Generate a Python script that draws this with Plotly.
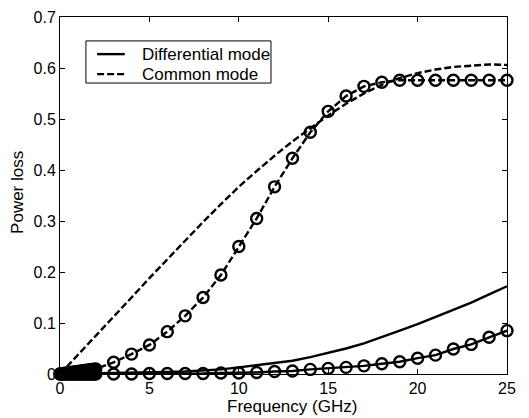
import plotly.graph_objects as go

# Curves without markers (model)
freq_curve = [0, 1, 2, 3, 4, 5, 6, 7, 8, 9, 10, 11, 12, 13, 14, 15, 16, 17, 18, 19, 20, 21, 22, 23, 24, 25]
diff_curve = [0, 0.0005, 0.001, 0.0015, 0.002, 0.003, 0.004, 0.005, 0.007, 0.009, 0.013, 0.017, 0.021, 0.026,
              0.033, 0.041, 0.050, 0.060, 0.072, 0.085, 0.098, 0.112, 0.126, 0.140, 0.156, 0.172]
common_curve = [0, 0.037, 0.075, 0.112, 0.150, 0.188, 0.225, 0.262, 0.298, 0.333, 0.367, 0.398, 0.428, 0.456,
                0.482, 0.507, 0.530, 0.550, 0.567, 0.580, 0.590, 0.597, 0.602, 0.605, 0.607, 0.606]

# Curves with circle markers (measured / simulated points)
freq_pts = [0, 0.1, 0.2, 0.3, 0.4, 0.5, 0.6, 0.7, 0.8, 0.9, 1.0, 1.1, 1.2, 1.3, 1.4, 1.5, 1.6, 1.7, 1.8, 1.9, 2.0,
            3, 4, 5, 6, 7, 8, 9, 10, 11, 12, 13, 14, 15, 16, 17, 18, 19, 20, 21, 22, 23, 24, 25]
diff_pts = [0, 0, 0, 0, 0, 0, 0, 0, 0, 0, 0, 0, 0, 0, 0, 0, 0, 0, 0, 0, 0,
            0.000, 0.000, 0.001, 0.001, 0.001, 0.001, 0.002, 0.002, 0.003, 0.005, 0.006, 0.009, 0.011,
            0.013, 0.016, 0.020, 0.024, 0.031, 0.037, 0.049, 0.058, 0.072, 0.085]
common_pts = [0, 0.0005, 0.001, 0.0015, 0.002, 0.0025, 0.003, 0.0035, 0.004, 0.0045, 0.005, 0.0055, 0.006,
              0.0065, 0.007, 0.0075, 0.008, 0.0085, 0.009, 0.0095, 0.010,
              0.023, 0.039, 0.057, 0.083, 0.114, 0.150, 0.194, 0.250, 0.305, 0.367, 0.423, 0.474, 0.515,
              0.545, 0.564, 0.572, 0.576, 0.576, 0.576, 0.576, 0.576, 0.576, 0.576]

legend_labels = ["Differential mode", "Common mode"]

dash = "7px,3px"
lw = 2.4
circle = dict(symbol="circle-open", size=11, color="black", line=dict(width=2.4))
fig = go.Figure()

fig.add_trace(go.Scatter(x=freq_curve, y=diff_curve, mode="lines", name=legend_labels[0],
                         line=dict(color="black", width=lw)))
fig.add_trace(go.Scatter(x=freq_curve, y=common_curve, mode="lines", name=legend_labels[1],
                         line=dict(color="black", width=lw, dash=dash)))
fig.add_trace(go.Scatter(x=freq_pts, y=diff_pts, mode="lines+markers", name=legend_labels[0] + " (points)",
                         line=dict(color="black", width=lw), marker=circle, cliponaxis=False))
fig.add_trace(go.Scatter(x=freq_pts, y=common_pts, mode="lines+markers", name=legend_labels[1] + " (points)",
                         line=dict(color="black", width=lw, dash=dash), marker=circle, cliponaxis=False))

axis_common = dict(showline=True, linecolor="black", linewidth=1, mirror="ticks", ticks="inside",
                   ticklen=5, tickcolor="black", showgrid=False, zeroline=False, automargin=False,
                   tickfont=dict(size=16, color="black"))

fig.update_layout(
    width=529, height=418,
    margin=dict(l=60, r=22, t=17, b=44),
    paper_bgcolor="white", plot_bgcolor="white",
    font=dict(family="Arial, Liberation Sans, sans-serif", color="black", size=17),
    xaxis=dict(range=[0, 25], tickvals=[0, 5, 10, 15, 20, 25], **axis_common),
    yaxis=dict(range=[0, 0.7], tickvals=[0, 0.1, 0.2, 0.3, 0.4, 0.5, 0.6, 0.7],
               ticktext=["0", "0.1", "0.2", "0.3", "0.4", "0.5", "0.6", "0.7"], **axis_common),
    showlegend=False,
)

# MATLAB-style legend box, drawn by hand so its compact row spacing matches
fig.add_shape(type="rect", xref="paper", yref="paper", x0=0.058, x1=0.472, y0=0.815, y1=0.933,
              line=dict(color="black", width=1), fillcolor="white", layer="above")
fig.add_shape(type="line", xref="paper", yref="paper", x0=0.083, x1=0.145, y0=0.896, y1=0.896,
              line=dict(color="black", width=lw), layer="above")
fig.add_shape(type="line", xref="paper", yref="paper", x0=0.083, x1=0.145, y0=0.840, y1=0.840,
              line=dict(color="black", width=lw, dash=dash), layer="above")
fig.add_annotation(text=legend_labels[0], xref="paper", yref="paper", x=0.178, y=0.896,
                   xanchor="left", yanchor="middle", showarrow=False, font=dict(size=17))
fig.add_annotation(text=legend_labels[1], xref="paper", yref="paper", x=0.178, y=0.840,
                   xanchor="left", yanchor="middle", showarrow=False, font=dict(size=17))

# axis titles placed like the MATLAB original
fig.add_annotation(text="Frequency (GHz)", xref="paper", yref="paper", x=0.519, y=-0.092,
                   xanchor="center", yanchor="middle", showarrow=False, font=dict(size=17))
fig.add_annotation(text="Power loss", xref="paper", yref="paper", x=-0.094, y=0.51,
                   xanchor="center", yanchor="middle", textangle=-90, showarrow=False, font=dict(size=17))

# the page's default body margin would shift the 529x418 figure out of the window
fig.write_html("out.html", config={"displayModeBar": False},
               post_script="document.body.style.margin='0';")
